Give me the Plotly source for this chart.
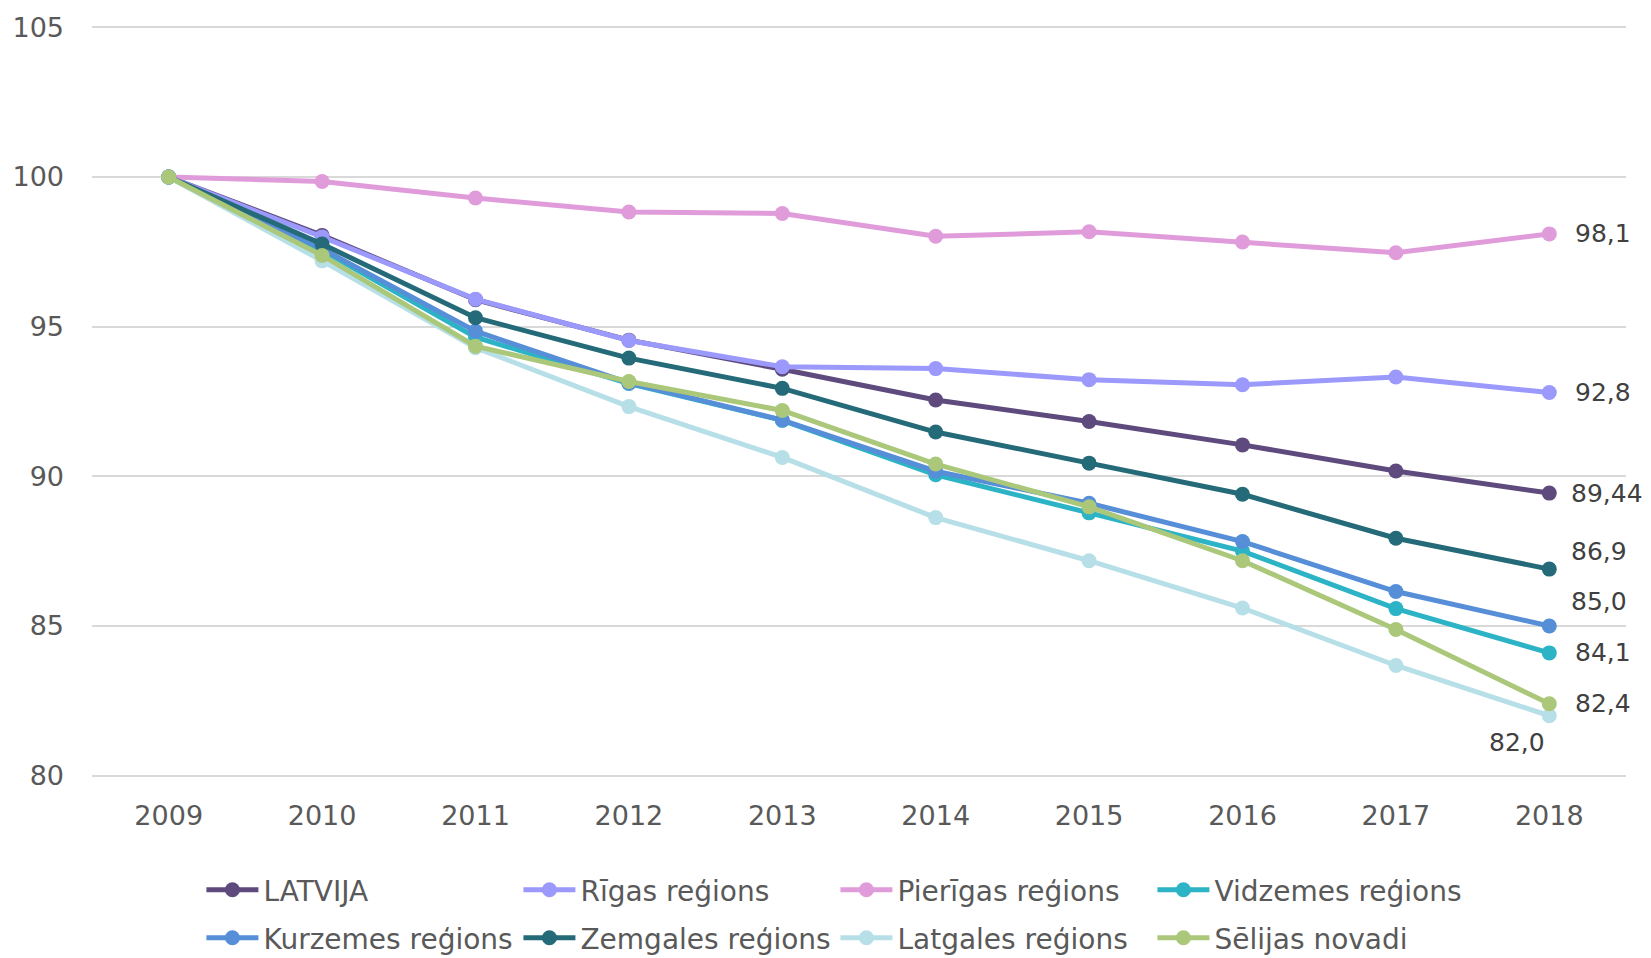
import plotly.graph_objects as go

years = ["2009", "2010", "2011", "2012", "2013", "2014", "2015", "2016", "2017", "2018"]

latvija = [100, 98.05, 95.9, 94.55, 93.58, 92.55, 91.83, 91.05, 90.18, 89.44]
rigas = [100, 98.0, 95.92, 94.54, 93.66, 93.6, 93.23, 93.06, 93.32, 92.8]
pierigas = [100, 99.85, 99.3, 98.83, 98.78, 98.02, 98.17, 97.83, 97.47, 98.1]
vidzemes = [100, 97.55, 94.65, 93.1, 91.87, 90.05, 88.78, 87.5, 85.58, 84.1]
kurzemes = [100, 97.6, 94.85, 93.12, 91.88, 90.17, 89.1, 87.82, 86.15, 85.0]
zemgales = [100, 97.76, 95.3, 93.95, 92.94, 91.48, 90.44, 89.4, 87.93, 86.9]
latgales = [100, 97.2, 94.3, 92.33, 90.63, 88.62, 87.18, 85.6, 83.68, 82.0]
selijas = [100, 97.38, 94.35, 93.17, 92.2, 90.41, 88.98, 87.18, 84.88, 82.4]

names = ["LATVIJA", "Rīgas reģions", "Pierīgas reģions", "Vidzemes reģions",
         "Kurzemes reģions", "Zemgales reģions", "Latgales reģions", "Sēlijas novadi"]
end_labels = ["89,44", "92,8", "98,1", "84,1", "85,0", "86,9", "82,0", "82,4"]
colors = ["#5e4a7d", "#9b99fb", "#e09cda", "#2db3c6", "#568ed8", "#246a78", "#b7dfe7", "#aac77a"]

series = [latvija, rigas, pierigas, vidzemes, kurzemes, zemgales, latgales, selijas]

# label nudges in px (x, y) so they don't collide like in the original
label_shift = [(20, 0), (24, 0), (24, 0), (24, 0), (20, 24), (20, 18), (-2, -27), (24, 0)]

FONT = "DejaVu Sans"

fig = go.Figure()
for i, (name, vals) in enumerate(zip(names, series)):
    fig.add_trace(go.Scatter(
        x=years, y=vals, name=name, mode="lines+markers",
        line=dict(color=colors[i], width=5),
        marker=dict(color=colors[i], size=15),
        cliponaxis=False,
        legend="legend" if i < 4 else "legend2",
    ))
    dx, dy = label_shift[i]
    # category axis: annotations need the category index, not the "2018" string
    fig.add_annotation(
        x=len(years) - 1, y=vals[-1], text=end_labels[i], showarrow=False,
        xanchor="left" if dx > 0 else "right", yanchor="middle",
        xshift=dx, yshift=dy,
        font=dict(family=FONT, size=25, color="#404040"),
    )

legend_style = dict(orientation="h", xref="container", yref="container",
                    xanchor="left", yanchor="middle", x=0.122,
                    entrywidth=250, entrywidthmode="pixels", itemwidth=52,
                    font=dict(family=FONT, size=28, color="#595959"),
                    bgcolor="rgba(0,0,0,0)", tracegroupgap=0)

fig.update_layout(
    width=1651, height=958,
    margin=dict(l=92, r=25, t=18, b=180),
    plot_bgcolor="white", paper_bgcolor="white",
    font=dict(family=FONT, size=27, color="#595959"),
    legend=dict(legend_style, y=1 - 890 / 958),
    legend2=dict(legend_style, y=1 - 938 / 958),
    showlegend=True,
)
fig.update_xaxes(type="category", range=[-0.5, 9.5], showgrid=False, zeroline=False,
                 showline=False, ticks="", ticklabelstandoff=19,
                 tickfont=dict(family=FONT, size=27, color="#595959"))
fig.update_yaxes(range=[79.92, 105.08], tickvals=[80, 85, 90, 95, 100, 105],
                 showgrid=True, gridcolor="#d9d9d9", gridwidth=2,
                 zeroline=False, showline=False, ticks="", ticklabelstandoff=27,
                 tickfont=dict(family=FONT, size=27, color="#595959"))

fig.write_html("out.html", config={"displayModeBar": False},
               post_script="document.body.style.margin='0px';")
